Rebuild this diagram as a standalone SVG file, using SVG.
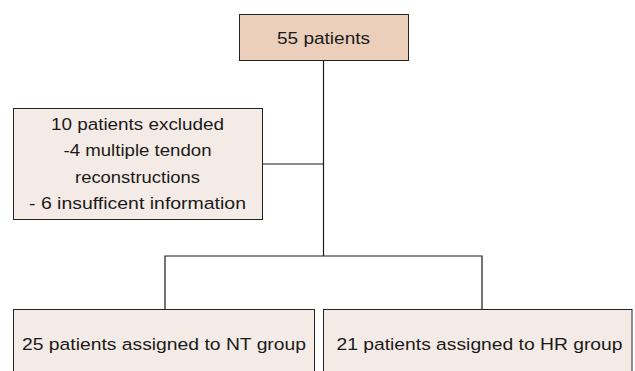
<svg xmlns="http://www.w3.org/2000/svg" width="635" height="371" viewBox="0 0 635 371">
<style>
.box{stroke:#222;stroke-width:1}
.top{fill:#ebcfba}
.light{fill:#f5ebe6}
.t{font-family:"Liberation Sans",Arial,sans-serif;font-size:17.2px;fill:#1a1a1a;text-anchor:middle}
.c{stroke:#1a1a1a;stroke-width:1.2;fill:none}
</style>
<rect width="635" height="371" fill="#ffffff"/>
<g id="connectors">
<path class="c" d="M323.5,60 V256"/>
<path class="c" d="M262,164 H323.5"/>
<path class="c" d="M165,309 V256 H482 V309"/>
</g>
<g id="n-total">
<rect class="box top" x="239.5" y="14.5" width="169" height="46"/>
<text class="t" x="323.5" y="44.3" textLength="93" lengthAdjust="spacingAndGlyphs">55 patients</text>
</g>
<g id="n-excluded">
<rect class="box light" x="13.5" y="108.5" width="249" height="111"/>
<text class="t" x="137.5" y="129.5" textLength="173" lengthAdjust="spacingAndGlyphs">10 patients excluded</text>
<text class="t" x="137.5" y="156" textLength="148" lengthAdjust="spacingAndGlyphs">-4 multiple tendon</text>
<text class="t" x="137.5" y="182.5" textLength="125" lengthAdjust="spacingAndGlyphs">reconstructions</text>
<text class="t" x="137.5" y="209" textLength="217" lengthAdjust="spacingAndGlyphs">- 6 insufficent information</text>
</g>
<g id="n-nt">
<rect class="box light" x="13.5" y="309.5" width="301" height="80"/>
<text class="t" x="164" y="350" textLength="284" lengthAdjust="spacingAndGlyphs">25 patients assigned to NT group</text>
</g>
<g id="n-hr">
<rect class="box light" x="323.5" y="309.5" width="308.5" height="80"/>
<text class="t" x="479.5" y="350" textLength="286" lengthAdjust="spacingAndGlyphs">21 patients assigned to HR group</text>
</g>
</svg>
